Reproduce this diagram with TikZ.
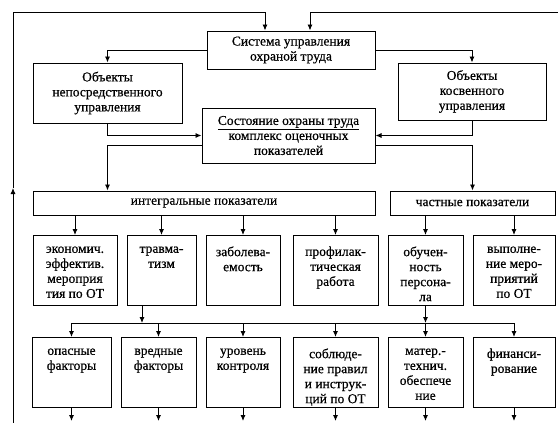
\documentclass[tikz,border=0pt]{standalone}
\usepackage{fontspec}
\setmainfont{Liberation Serif}[FakeBold=0.6]
\usetikzlibrary{arrows.meta}
\tikzset{
  box/.style={draw, line width=1pt, inner sep=0pt, align=center,
              font=\fontsize{13.5}{15}\selectfont},
  cell/.style={box, anchor=north},
  arr/.style={-{Latex[length=6pt,width=5pt]}, line width=0.9pt},
}
\newcommand{\celltxt}[2]{\parbox[c][70pt][t]{#1pt}{\centering\vspace*{11pt}#2\par}}

\begin{document}
\begin{tikzpicture}[x=1pt,y=-1pt]
\useasboundingbox (0,0) rectangle (558,423);

% upper part
\node[box, minimum width=168pt, minimum height=38pt] (sys) at (291,50) {Система управления\\охраной труда};
\node[box, minimum width=149pt, minimum height=60pt] (direct) at (107.5,93) {Объекты\\непосредственного\\управления};
\node[box, minimum width=148pt, minimum height=57pt] (indirect) at (472,91.5) {Объекты\\косвенного\\управления};
\node[box, minimum width=173pt, minimum height=55pt] (state) at (288.5,135.5) {\underline{Состояние охраны труда}\\комплекс оценочных\\показателей};
\node[box, minimum width=342pt, minimum height=24pt] (integ) at (204,203) {интегральные показатели};
\node[box, minimum width=165pt, minimum height=24pt] (part) at (472.5,203) {частные показатели};

% first row
\node[cell] (econ) at (75,235) {\celltxt{84}{экономич.\\эффектив.\\мероприя\\тия по ОТ}};
\node[cell] (trauma) at (161.5,235) {\celltxt{69}{травма-\\тизм}};
\node[cell] (illness) at (243,235) {\celltxt{74}{заболева-\\емость}};
\node[cell] (prof) at (335.5,235) {\celltxt{85}{профилак-\\тическая\\работа}};
\node[cell] (train) at (425.5,235) {\celltxt{75}{обучен-\\ность\\персона-\\ла}};
\node[cell] (exec) at (514,235) {\celltxt{82}{выполне-\\ние меро-\\приятий\\по ОТ}};

% second row
\node[cell] (danger) at (71.5,337) {\celltxt{79}{опасные\\факторы}};
\node[cell] (harm) at (158.5,337) {\celltxt{75}{вредные\\факторы}};
\node[cell] (control) at (243,337) {\celltxt{74}{уровень\\контроля}};
\node[cell] (rules) at (335.5,337) {\celltxt{85}{соблюде-\\ние правил\\и инструк-\\ций по ОТ}};
\node[cell] (mat) at (425.5,337) {\celltxt{75}{матер.-\\технич.\\обеспече\\ние}};
\node[cell] (fin) at (514,337) {\celltxt{82}{финанси-\\рование}};

\coordinate (fb) at (13,423);
\coordinate (mid) at (13,188);
\coordinate (top) at (13,12);
\coordinate (rt) at (558,12);
\coordinate (bus) at (142,323);
\coordinate (low) at (0,421);

% feedback
\draw[arr] (fb) -- (mid);
\draw[arr] (mid) -- (top) -| ([xshift=-26pt]sys.north);
\draw[arr] (rt) -| ([xshift=19pt]sys.north);

\draw[arr] (sys.west) -| (direct.north);
\draw[arr] (sys.east) -| (indirect.north);
\draw[arr] (direct.south) |- (state.west);
\draw[arr] (indirect.south) |- (state.east);
\draw[arr] ([yshift=18pt]state.south west) -| (direct.south |- integ.north);
\draw[arr] ([yshift=18pt]state.south east) -| (part.north);

\draw[arr] (econ.north |- integ.south) -- (econ.north);
\draw[arr] (trauma.north |- integ.south) -- (trauma.north);
\draw[arr] (illness.north |- integ.south) -- (illness.north);
\draw[arr] (prof.north |- integ.south) -- (prof.north);
\draw[arr] (train.north |- part.south) -- (train.north);
\draw[arr] (exec.north |- part.south) -- (exec.north);

% bus
\draw[arr] (trauma.south -| bus) -- (bus);
\draw[arr] (train.south) -- (train.south |- bus);
\draw[line width=0.9pt] (danger.north |- bus) -- (fin.north |- bus);
\draw[arr] (danger.north |- bus) -- (danger.north);
\draw[arr] (harm.north |- bus) -- (harm.north);
\draw[arr] (control.north |- bus) -- (control.north);
\draw[arr] (rules.north |- bus) -- (rules.north);
\draw[arr] (mat.north |- bus) -- (mat.north);
\draw[arr] (fin.north |- bus) -- (fin.north);

% outputs
\draw[arr] (danger.south) -- (danger.south |- low);
\draw[arr] (harm.south) -- (harm.south |- low);
\draw[arr] (control.south) -- (control.south |- low);
\draw[arr] (rules.south) -- (rules.south |- low);
\draw[arr] (mat.south) -- (mat.south |- low);
\draw[arr] (fin.south) -- (fin.south |- low);
\end{tikzpicture}
\end{document}
